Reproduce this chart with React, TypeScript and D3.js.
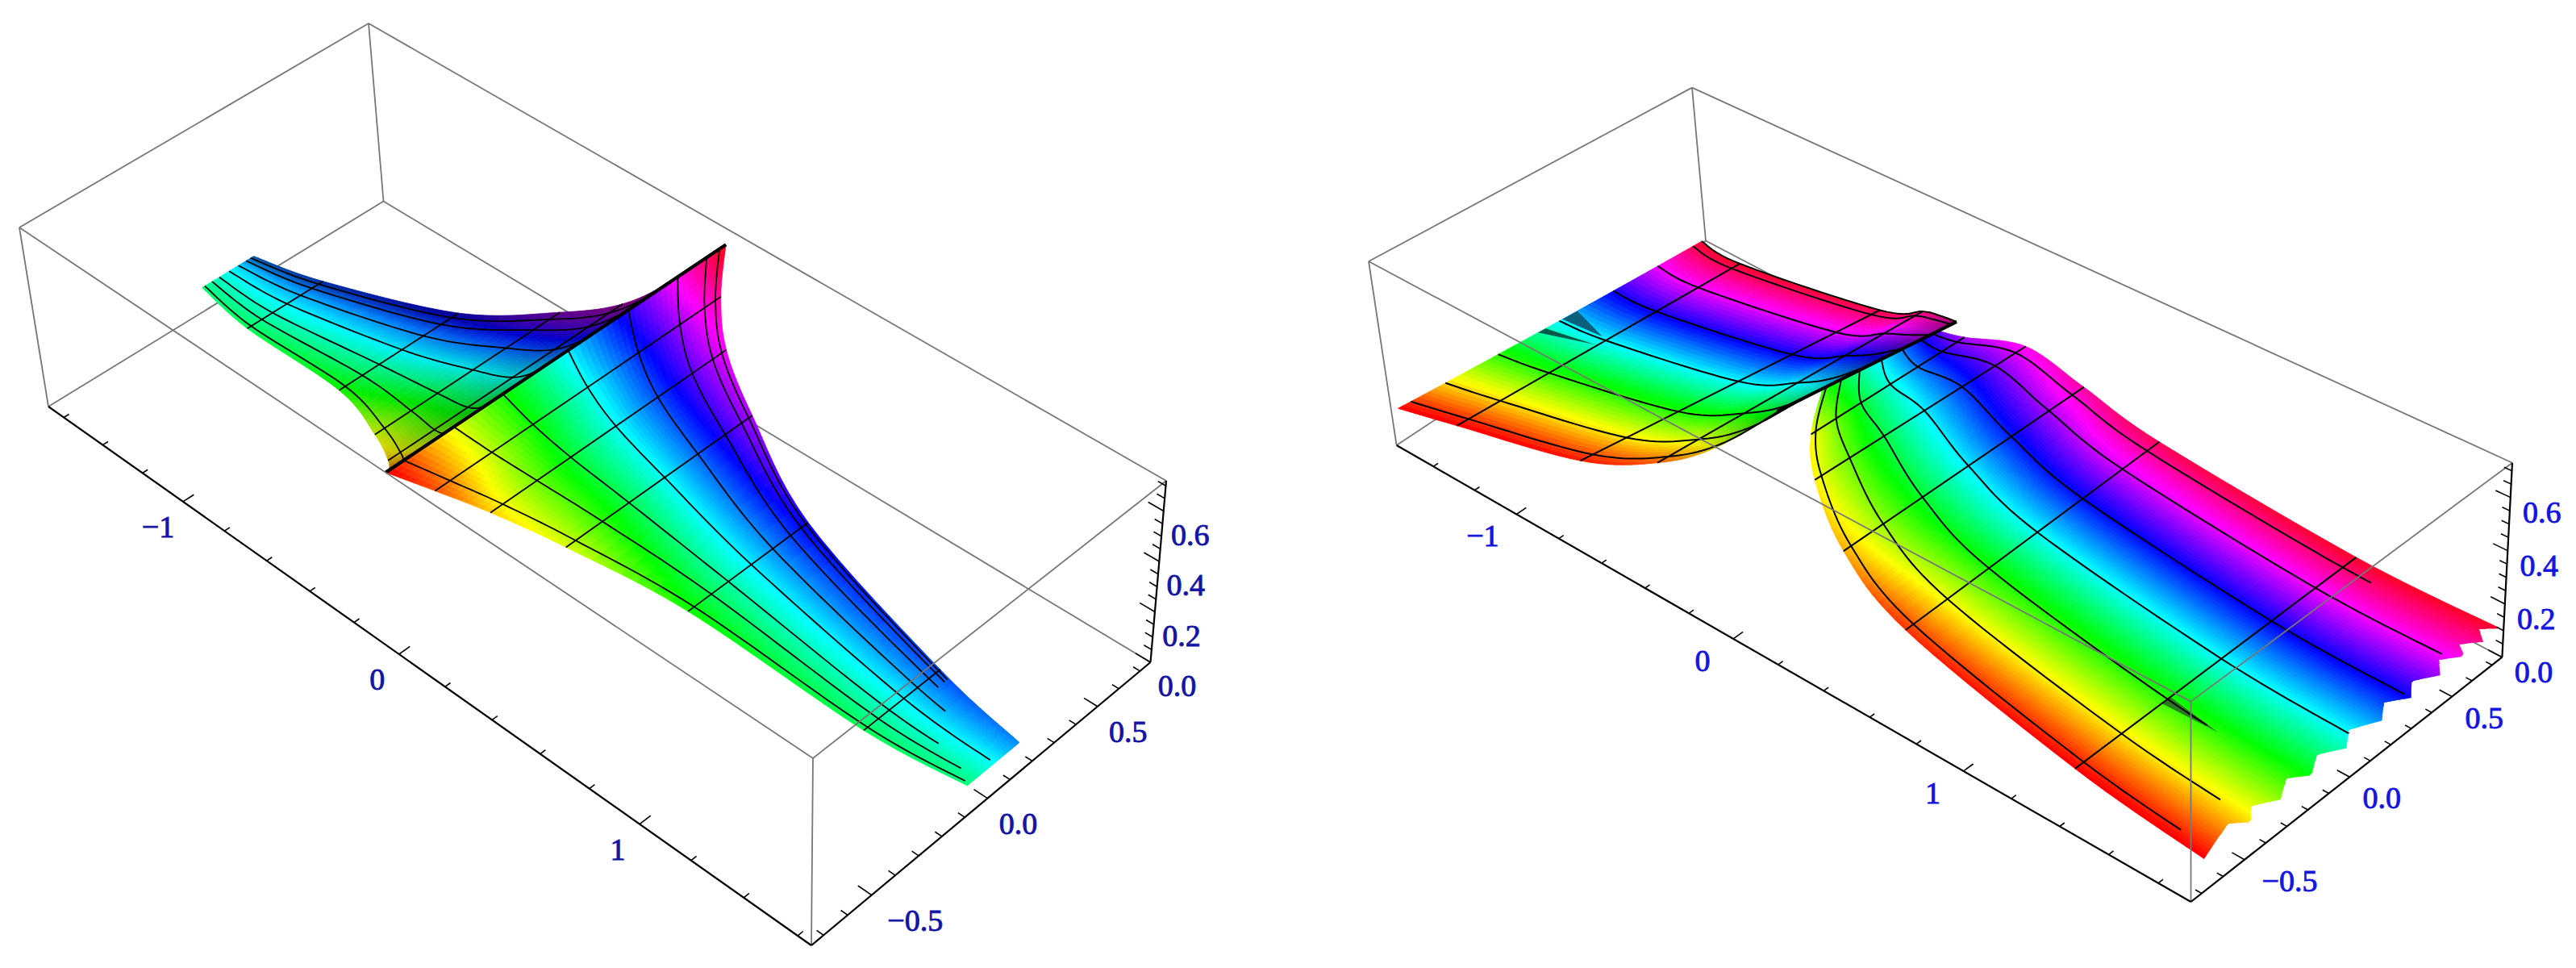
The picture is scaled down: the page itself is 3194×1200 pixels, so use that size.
import React, { useEffect, useRef } from 'react';
import * as d3 from 'd3';

// left plot: one table per column, stations run from the crest to the far end
const leftX = [0, 0.1, 0.22, 0.41, 0.75, 1.33, 1.65];
const leftYLow = [-0.75, -0.653, -0.55, -0.434, -0.28, -0.17, -0.095];
const leftYHigh = [0.69, 0.56, 0.455, 0.365, 0.24, 0.165, 0.135];
const leftZ = [0.72, 0.645, 0.565, 0.47, 0.33, 0.17, 0.12];
const leftBackZ = [0.72, 0.6, 0.5, 0.415, 0.3, 0.165, 0.12];
const leftHueLow = [0, 0.06, 0.14, 0.2, 0.33, 0.39, 0.41];
const leftHueHigh = [1, 0.9, 0.83, 0.78, 0.68, 0.62, 0.58];
const leftBackShade = [0.62, 0.68, 0.78, 0.88, 0.95, 1, 1];
const leftLines = [0.05, 0.19, 0.33, 0.52, 0.7, 0.85, 0.94, 0.98];
const leftLineEnds = [1.65, 1.6, 1.5, 1.65, 1.45, 1.4, 1.4, 1.4];

// right plot, back sheet: far edge first, crest last
const backXLow = [-1.58, -1.265, -0.685, -0.395, -0.305, -0.265];
const backXHigh = [-1.58, -1.385, -0.685, -0.395, -0.275, -0.165];
const backYLow = [-0.72, -0.73, -0.7, -0.62, -0.45, -0.2];
const backYHigh = [0.73, 0.72, 0.7, 0.62, 0.58, 0.55];
const backZLow = [0.13, 0.21, 0.32, 0.4, 0.405, 0.43];
const backZHigh = [0.01, 0.01, 0.155, 0.33, 0.39, 0.43];
const backHueLow = [0, 0, 0.02, 0.07, 0.17, 0.33];
const backHueHigh = [0.98, 0.98, 0.96, 0.93, 0.91, 0.9];
const backShade = [1, 1, 1, 0.95, 0.8, 0.6];
const backLines = [0.04, 0.15, 0.32, 0.52, 0.7, 0.85, 0.97, 1];
const backFlapA = [[0, 0.45], [0, 0.475], [0.95, 0.49]];
const backFlapB = [[0, 0.53], [0, 0.58], [0.9, 0.53]];

// right plot, front sheet: crest first, far edge last
const domeX = [-0.165, -0.115, 0.065, 0.265, 0.565, 1.365, 1.93];
const domeYLow = [-0.08, -0.2, -0.37, -0.467, -0.52, -0.63, -0.69];
const domeYHigh = [0.45, 0.53, 0.63, 0.68, 0.7, 0.72, 0.73];
const domeZLow = [0.5, 0.41, 0.41, 0.29, 0.17, 0.12, 0.12];
const domeZHigh = [0.45, 0.4, 0.39, 0.29, 0.2, 0.12, 0.12];
const domeHueLow = [0.3, 0.17, 0.16, 0.11, 0.03, 0, 0];
const domeHueHigh = [0.72, 0.78, 0.85, 0.9, 0.95, 0.98, 0.98];
const domeLines = [0.03, 0.16, 0.32, 0.51, 0.69, 0.85, 0.95];
const domeLineEnds = [1.8, 1.8, 1.55, 1.93, 1.91, 1.88, 1.53];
const domeFlap = [[5, 0.3], [5, 0.33], [5.32, 0.32]];
const sawV = [0, 0.118, 0.154, 0.191, 0.25, 0.31, 0.353, 0.412, 0.47, 0.52, 0.59, 0.64, 0.69, 0.735, 0.79, 0.83, 0.875, 0.9, 0.94, 0.97, 1];
const sawX = [1.93, 1.88, 1.93, 1.88, 1.93, 1.88, 1.93, 1.88, 1.93, 1.88, 1.93, 1.88, 1.93, 1.88, 1.93, 1.88, 1.93, 1.88, 1.93, 1.88, 1.93];

const zTickValues = d3.range(0, 0.71, 0.05);
const yTickValues = d3.range(-0.7, 0.71, 0.1);
const yMajor = [-0.5, 0, 0.5];
const zMajor = [0, 0.2, 0.4, 0.6];
const xMajor = [-1, 0, 1];

type Pt = [number, number];
type Sheet = {
  xLow: number[]; xHigh: number[]; yLow: number[]; yHigh: number[]; zLow: number[]; zHigh: number[];
  hueLow: number[]; hueHigh: number[]; shade?: number[]; rim?: number;
  lines: number[]; lineEnds?: number[]; cross: number[]; crest?: number; clip?: (v: number) => number;
  flaps?: { at: number[][]; color: string }[];
  steps: number; across: number;
};

const squareToQuad = (q: Pt[]) => {
  const [[x0, y0], [x1, y1], [x2, y2], [x3, y3]] = q;
  const dx1 = x1 - x2, dx2 = x3 - x2, sx = x0 - x1 + x2 - x3;
  const dy1 = y1 - y2, dy2 = y3 - y2, sy = y0 - y1 + y2 - y3;
  const den = dx1 * dy2 - dx2 * dy1;
  const g = (sx * dy2 - dx2 * sy) / den, h = (dx1 * sy - sx * dy1) / den;
  const a = x1 - x0 + g * x1, b = x3 - x0 + h * x3, d = y1 - y0 + g * y1, e = y3 - y0 + h * y3;
  return (u: number, v: number): Pt => {
    const w = g * u + h * v + 1;
    return [(a * u + b * v + x0) / w, (d * u + e * v + y0) / w];
  };
};

// smooth read through a column of read-off values
const readTable = (t: number[], u: number) => {
  const n = t.length - 1;
  const i = Math.min(Math.floor(u), n - 1), s = u - i;
  const p0 = t[Math.max(i - 1, 0)], p1 = t[i], p2 = t[i + 1], p3 = t[Math.min(i + 2, n)];
  return 0.5 * (2 * p1 + (p2 - p0) * s + (2 * p0 - 5 * p1 + 4 * p2 - p3) * s * s + (3 * p1 - p0 - 3 * p2 + p3) * s * s * s);
};

const drawPlot = (root: any, cfg: any) => {
  const fx = d3.scaleLinear().domain(cfg.xDomain).range([0, 1]);
  const fy = d3.scaleLinear().domain([-0.75, 0.75]).range([0, 1]);
  const fz = d3.scaleLinear().domain([0, cfg.zMax]).range([0, 1]);
  const bottom = squareToQuad(cfg.bottom), top = squareToQuad(cfg.top);
  const project = (x: number, y: number, z: number): Pt => {
    const a = bottom(fx(x), fy(y)), b = top(fx(x), fy(y)), k = fz(z);
    return [a[0] + (b[0] - a[0]) * k, a[1] + (b[1] - a[1]) * k];
  };
  const line = d3.line();
  const [x0, x1] = cfg.xDomain;
  const edge = (g: any, a: number[], b: number[], stroke: string, w: number) =>
    g.append('path').attr('d', line([project(a[0], a[1], a[2]), project(b[0], b[1], b[2])])).attr('stroke', stroke).attr('stroke-width', w).attr('fill', 'none');
  const Y0 = -0.75, Y1 = 0.75, Z1 = cfg.zMax;

  const back = root.append('g');
  edge(back, [x0, Y0, 0], [x0, Y1, 0], '#777', 1.8);
  edge(back, [x0, Y1, 0], [x1, Y1, 0], '#777', 1.8);
  edge(back, [x0, Y1, 0], [x0, Y1, Z1], '#777', 1.8);
  edge(back, [x0, Y1, Z1], [x0, Y0, Z1], '#777', 1.8);
  edge(back, [x0, Y1, Z1], [x1, Y1, Z1], '#777', 1.8);
  edge(back, [x0, Y0, 0], [x0, Y0, Z1], '#777', 1.8);

  const hsl = (hue: number, shade: number) => {
    const c = d3.rgb(d3.hsl(hue * 360, 1, 0.5));
    return d3.rgb(c.r * shade, c.g * shade, c.b * shade).formatHex();
  };

  cfg.sheets.forEach((s: Sheet) => {
    const g = root.append('g');
    const n = s.xLow.length - 1;
    const point = (u: number, v: number): number[] => {
      const lerp = (lo: number[], hi: number[]) => readTable(lo, u) * (1 - v) + readTable(hi, u) * v;
      let x = lerp(s.xLow, s.xHigh);
      if (s.clip) {
        const limit = s.clip(v);
        if (x > limit) x = limit;
      }
      return [x, lerp(s.yLow, s.yHigh), lerp(s.zLow, s.zHigh)];
    };
    const at = (u: number, v: number) => {
      const p = point(u, v);
      return project(p[0], p[1], p[2]);
    };
    const cells: { d: string; c: string }[] = [];
    const us = d3.range(0, n * s.steps).map((i) => i / s.steps);
    const vs = d3.range(0, s.across).map((i) => i / s.across);
    us.forEach((u) => {
      const du = 1 / s.steps;
      vs.forEach((v) => {
        const dv = 1 / s.across;
        const hue = readTable(s.hueLow, u) * (1 - v) + readTable(s.hueHigh, u) * v;
        let shade = s.shade ? readTable(s.shade, u) : 1;
        if (s.rim) shade *= 1 - s.rim * Math.max(0, (v - 0.75) / 0.25);
        cells.push({
          d: (line([at(u, v), at(u + du, v), at(u + du, v + dv), at(u, v + dv)]) as string) + 'Z',
          c: hsl(hue, Math.min(shade, 1)),
        });
      });
    });
    g.selectAll('path.cell').data(cells).enter().append('path')
      .attr('class', 'cell').attr('d', (d: any) => d.d).attr('fill', (d: any) => d.c)
      .attr('stroke', (d: any) => d.c).attr('stroke-width', 0.8);

    (s.flaps || []).forEach((f) => {
      g.append('path').attr('d', (line(f.at.map((p) => at(p[0], p[1]))) as string) + 'Z').attr('fill', f.color);
    });

    s.lines.forEach((v, i) => {
      const limit = s.lineEnds ? s.lineEnds[i] : Infinity;
      const pts = d3.range(0, n * 12 + 1).map((k) => k / 12)
        .map((u) => point(u, v)).filter((p) => Math.abs(p[0]) <= limit)
        .map((p) => project(p[0], p[1], p[2]));
      g.append('path').attr('d', line(pts)).attr('fill', 'none').attr('stroke', '#000').attr('stroke-width', cfg.meshWidth);
    });
    s.cross.forEach((u) => {
      g.append('path').attr('d', line([at(u, 0), at(u, 1)])).attr('fill', 'none').attr('stroke', '#000').attr('stroke-width', cfg.meshWidth);
    });
    if (s.crest !== undefined) {
      g.append('path').attr('d', line([at(s.crest, 0), at(s.crest, 1)])).attr('fill', 'none').attr('stroke', '#000').attr('stroke-width', 4);
    }
  });

  const front = root.append('g');
  edge(front, [x0, Y0, Z1], [x1, Y0, Z1], '#777', 1.8);
  edge(front, [x1, Y0, Z1], [x1, Y1, Z1], '#777', 1.8);
  edge(front, [x1, Y0, 0], [x1, Y0, Z1], '#777', 1.8);
  edge(front, [x1, Y1, Z1], [x1, Y1, 0], '#000', 2.2);
  edge(front, [x0, Y0, 0], [x1, Y0, 0], '#000', 2.2);
  edge(front, [x1, Y0, 0], [x1, Y1, 0], '#000', 2.2);

  cfg.xTicks.forEach((t: number) => {
    const major = xMajor.some((m) => Math.abs(m - t) < 1e-6);
    edge(front, [t, Y0, 0], [t, Y0 + (major ? 0.045 : 0.022), 0], '#000', 1.6);
  });
  yTickValues.forEach((t) => {
    const major = yMajor.some((m) => Math.abs(m - t) < 1e-6);
    edge(front, [x1, t, 0], [x1 - (major ? 0.05 : 0.025), t, 0], '#000', 1.6);
  });
  zTickValues.forEach((t) => {
    const major = zMajor.some((m) => Math.abs(m - t) < 1e-6);
    edge(front, [x1, Y1, t], [x1 - (major ? 0.055 : 0.028), Y1, t], '#000', 1.6);
  });

  const label = (p: Pt, text: string, off: Pt) =>
    front.append('text').attr('x', p[0] + off[0]).attr('y', p[1] + off[1]).attr('text-anchor', 'middle').attr('dominant-baseline', 'central')
      .style('font-family', "'Liberation Serif', serif").style('font-size', '38px').attr('fill', cfg.labelColor).attr('stroke', cfg.labelColor).attr('stroke-width', 0.9).text(text);
  xMajor.forEach((t) => label(project(t, Y0, 0), t < 0 ? `\u2212${-t}` : `${t}`, [cfg.xLabelOffset[0] - (t < 0 ? 4 : 0), cfg.xLabelOffset[1]]));
  yMajor.forEach((t) => label(project(x1, t, 0), t < 0 ? `\u2212${(-t).toFixed(1)}` : t.toFixed(1), [cfg.yLabelOffset[0] + (t < 0 ? 16 : 0), cfg.yLabelOffset[1]]));
  zMajor.forEach((t) => label(project(x1, Y1, t), t.toFixed(1), cfg.zLabelOffset));
};

const App = () => {
  const ref = useRef<SVGSVGElement>(null);

  useEffect(() => {
    const svg = d3.select(ref.current);
    svg.selectAll('*').remove();

    const neg = (a: number[]) => a.map((d) => -d);
    const leftBase = {
      yLow: leftYLow, yHigh: leftYHigh,
      hueLow: leftHueLow, hueHigh: leftHueHigh, steps: 8, across: 60,
    };
    drawPlot(svg.append('g'), {
      xDomain: [-1.68, 1.65], zMax: 0.72, meshWidth: 1.8, labelColor: '#1414a4',
      bottom: [[60, 504], [1006, 1172], [1426.5, 821], [475.5, 249.5]],
      top: [[24, 282], [1008, 940], [1446, 596], [457, 29]],
      xTicks: d3.range(-1.6, 1.61, 0.2),
      xLabelOffset: [-27, 31], yLabelOffset: [38, 31], zLabelOffset: [33, 29],
      sheets: [
        { ...leftBase, zLow: leftBackZ, zHigh: leftBackZ, xLow: neg(leftX), xHigh: neg(leftX), shade: leftBackShade, rim: 0.4, lines: leftLines.slice(0, 7), cross: [1, 2, 3, 4, 5], crest: 0 },
        { ...leftBase, zLow: leftZ, zHigh: leftZ, xLow: leftX, xHigh: leftX, lines: leftLines, lineEnds: leftLineEnds, cross: [1, 2, 3, 4, 5], crest: 0 },
      ],
    });

    const sawClip = d3.scaleLinear().domain(sawV).range(sawX);
    drawPlot(svg.append('g'), {
      xDomain: [-1.58, 1.93], zMax: 0.73, meshWidth: 2, labelColor: '#1414e0',
      bottom: [[1731.6, 552], [2716.5, 1118], [3102.4, 814.7], [2115, 298.5]],
      top: [[1697, 324], [2716.5, 869.6], [3115, 573.7], [2098, 108.6]],
      xTicks: d3.range(-1.4, 1.81, 0.2),
      xLabelOffset: [-38, 27], yLabelOffset: [40, 26], zLabelOffset: [39, 18],
      sheets: [
        {
          xLow: domeX, xHigh: domeX, yLow: domeYLow, yHigh: domeYHigh, zLow: domeZLow, zHigh: domeZHigh,
          hueLow: domeHueLow, hueHigh: domeHueHigh, lines: domeLines, lineEnds: domeLineEnds,
          cross: [0, 1, 2, 3, 4, 5], clip: (v: number) => sawClip(v), steps: 10, across: 100,
          flaps: [{ at: domeFlap, color: '#2a7a20' }],
        },
        {
          xLow: backXLow, xHigh: backXHigh, yLow: backYLow, yHigh: backYHigh, zLow: backZLow, zHigh: backZHigh,
          hueLow: backHueLow, hueHigh: backHueHigh, shade: backShade, lines: backLines, cross: [1, 2, 3], crest: 5,
          steps: 10, across: 60,
          flaps: [{ at: backFlapA, color: '#005a48' }, { at: backFlapB, color: '#0a5f7a' }],
        },
      ],
    });
  }, []);

  return <svg ref={ref} width={3194} height={1200} style={{ position: 'absolute', left: 0, top: 0, background: '#fff' }} />;
};

export default App;
